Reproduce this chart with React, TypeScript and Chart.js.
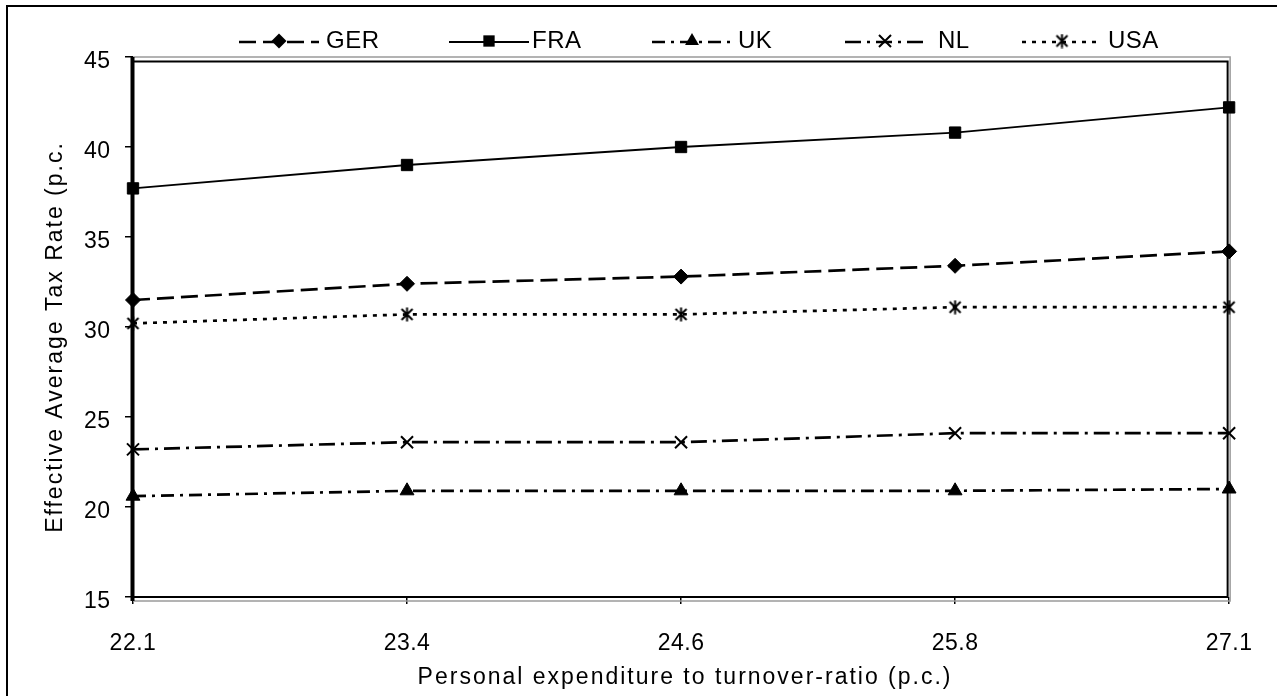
import React, { useEffect, useRef } from 'react';
import { Chart, registerables } from 'chart.js';

Chart.register(...registerables);

// ---------- data ----------
const categories = ['22.1', '23.4', '24.6', '25.8', '27.1'];
const gerValues = [31.5, 32.4, 32.8, 33.4, 34.2];
const fraValues = [37.7, 39.0, 40.0, 40.8, 42.2];
const ukValues = [20.6, 20.9, 20.9, 20.9, 21.0];
const nlValues = [23.2, 23.6, 23.6, 24.1, 24.1];
const usaValues = [30.2, 30.7, 30.7, 31.1, 31.1];
const seriesNames = ['GER', 'FRA', 'UK', 'NL', 'USA'];
const yMin = 15;
const yMax = 45;
const yStep = 5;
const xTitle = 'Personal expenditure to turnover-ratio (p.c.)';
const yTitle = 'Effective Average Tax Rate (p.c.';

const FONT = "'Liberation Sans', Arial, Helvetica, sans-serif";

function makeStar(size: number): HTMLCanvasElement {
  const c = document.createElement('canvas');
  c.width = size;
  c.height = size;
  const g = c.getContext('2d') as CanvasRenderingContext2D;
  g.strokeStyle = '#000';
  g.lineWidth = 2;
  const m = 2;
  g.beginPath();
  g.moveTo(m, m);
  g.lineTo(size - m, size - m);
  g.moveTo(size - m, m);
  g.lineTo(m, size - m);
  g.moveTo(size / 2, 0.5);
  g.lineTo(size / 2, size - 0.5);
  g.stroke();
  return c;
}

function drawMarker(ctx: CanvasRenderingContext2D, style: any, x: number, y: number, r: number) {
  ctx.save();
  ctx.fillStyle = '#000';
  ctx.strokeStyle = '#000';
  ctx.setLineDash([]);
  if (style instanceof HTMLCanvasElement) {
    ctx.drawImage(style, x - style.width / 2, y - style.height / 2);
  } else if (style === 'rectRot') {
    ctx.beginPath();
    ctx.moveTo(x - r, y);
    ctx.lineTo(x, y - r);
    ctx.lineTo(x + r, y);
    ctx.lineTo(x, y + r);
    ctx.closePath();
    ctx.fill();
  } else if (style === 'rect') {
    const s = Math.SQRT1_2 * r;
    ctx.fillRect(x - s, y - s, 2 * s, 2 * s);
  } else if (style === 'triangle') {
    ctx.beginPath();
    for (let i = 0; i < 3; i++) {
      const a = (i * 2 * Math.PI) / 3;
      const px = x + Math.sin(a) * r;
      const py = y - Math.cos(a) * r;
      if (i === 0) ctx.moveTo(px, py);
      else ctx.lineTo(px, py);
    }
    ctx.closePath();
    ctx.fill();
  } else if (style === 'crossRot') {
    const s = Math.SQRT1_2 * r;
    ctx.lineWidth = 2;
    ctx.beginPath();
    ctx.moveTo(x - s, y - s);
    ctx.lineTo(x + s, y + s);
    ctx.moveTo(x + s, y - s);
    ctx.lineTo(x - s, y + s);
    ctx.stroke();
  }
  ctx.restore();
}

export default function App() {
  const ref = useRef<HTMLCanvasElement | null>(null);

  useEffect(() => {
    const canvas = ref.current;
    if (!canvas) return;
    const star = makeStar(15);

    const styles: any[] = [
      { dash: [17, 7], width: 2.7, point: 'rectRot', radius: 7.5 },
      { dash: [], width: 1.8, point: 'rect', radius: 8 },
      { dash: [13, 6, 3, 6], width: 2.7, point: 'triangle', radius: 8 },
      { dash: [16, 6, 3, 6], width: 2.7, point: 'crossRot', radius: 8.5 },
      { dash: [4, 6], width: 2.7, point: star, radius: 7.5 },
    ];
    const values = [gerValues, fraValues, ukValues, nlValues, usaValues];

    const legendLineStart = [239, 449, 652, 845, 1022];
    const legendLineLen = 80;
    const legendTextX = [326, 532, 738, 938, 1108];
    const legendY = 42;

    const framePlugin = {
      id: 'framePlugin',
      beforeDraw(chart: any) {
        chart.ctx.letterSpacing = '0.5px';
      },
      beforeDatasetsDraw(chart: any) {
        const ctx = chart.ctx as CanvasRenderingContext2D;
        const { left, right, top, bottom } = chart.chartArea;
        ctx.save();
        // outer frame
        ctx.strokeStyle = '#000';
        ctx.lineWidth = 2;
        ctx.beginPath();
        ctx.moveTo(7, chart.height);
        ctx.lineTo(7, 6);
        ctx.lineTo(chart.width, 6);
        ctx.stroke();
        // gray shadow frame
        ctx.strokeStyle = '#9a9a9a';
        ctx.lineWidth = 1.5;
        ctx.beginPath();
        ctx.moveTo(left, top);
        ctx.lineTo(right + 1, top);
        ctx.lineTo(right + 1, bottom + 4);
        ctx.lineTo(left, bottom + 4);
        ctx.stroke();
        // black plot frame
        ctx.strokeStyle = '#000';
        ctx.lineWidth = 2;
        ctx.strokeRect(left, top + 4.5, right - 1.5 - left, bottom - (top + 4.5));
        ctx.lineWidth = 4;
        ctx.beginPath();
        ctx.moveTo(left - 0.5, top);
        ctx.lineTo(left - 0.5, bottom + 4);
        ctx.stroke();
        ctx.restore();
      },
      afterDraw(chart: any) {
        const ctx = chart.ctx as CanvasRenderingContext2D;
        const { left, right, top, bottom } = chart.chartArea;
        ctx.save();
        // legend
        for (let i = 0; i < seriesNames.length; i++) {
          const st = styles[i];
          const x0 = legendLineStart[i];
          ctx.strokeStyle = '#000';
          ctx.lineWidth = st.width;
          ctx.setLineDash(st.dash);
          ctx.beginPath();
          ctx.moveTo(x0, legendY);
          ctx.lineTo(x0 + legendLineLen, legendY);
          ctx.stroke();
          drawMarker(ctx, st.point, x0 + legendLineLen / 2, legendY - 1, st.radius);
          ctx.fillStyle = '#000';
          ctx.font = `24px ${FONT}`;
          ctx.textBaseline = 'middle';
          ctx.textAlign = 'left';
          ctx.fillText(seriesNames[i], legendTextX[i], legendY - 1);
        }
        // axis titles
        ctx.letterSpacing = '2px';
        ctx.font = `23px ${FONT}`;
        ctx.fillStyle = '#000';
        ctx.textAlign = 'center';
        ctx.textBaseline = 'middle';
        ctx.fillText(xTitle, (left + right) / 2 + 4, 678);
        ctx.save();
        ctx.translate(56, (top + bottom) / 2 + 10);
        ctx.rotate(-Math.PI / 2);
        ctx.fillText(yTitle, 0, 0);
        ctx.restore();
        ctx.restore();
      },
    };

    const chart = new Chart(canvas, {
      type: 'line',
      data: {
        labels: categories,
        datasets: seriesNames.map((name, i) => ({
          label: name,
          data: values[i],
          borderColor: '#000',
          backgroundColor: '#000',
          borderWidth: styles[i].width,
          borderDash: styles[i].dash,
          pointStyle: styles[i].point,
          pointRadius: styles[i].radius,
          pointBackgroundColor: '#000',
          pointBorderColor: '#000',
          pointBorderWidth: styles[i].point === 'crossRot' ? 2 : 1,
          tension: 0,
          fill: false,
          clip: false as any,
        })),
      },
      options: {
        responsive: false,
        animation: false,
        layout: { padding: { left: 0, top: 57, right: 47, bottom: 0 } },
        plugins: {
          legend: { display: false },
          tooltip: { enabled: false },
        },
        scales: {
          x: {
            type: 'category',
            offset: false,
            afterFit(scale: any) {
              scale.height = 99;
            },
            grid: {
              display: true,
              drawOnChartArea: false,
              drawTicks: true,
              tickLength: 7,
              color: '#000',
              lineWidth: 1.5,
            },
            border: { display: false },
            ticks: {
              color: '#000',
              font: { family: FONT, size: 23 },
              padding: 25.5,
              maxRotation: 0,
              autoSkip: false,
            },
            title: { display: false, text: xTitle },
          },
          y: {
            type: 'linear',
            min: yMin,
            max: yMax,
            afterFit(scale: any) {
              scale.width = 133;
            },
            grid: {
              display: true,
              drawOnChartArea: false,
              drawTicks: true,
              tickLength: 8,
              color: '#000',
              lineWidth: 1.5,
            },
            border: { display: false },
            ticks: {
              stepSize: yStep,
              color: '#000',
              font: { family: FONT, size: 23 },
              padding: 14.5,
              labelOffset: 5,
            },
            title: { display: false, text: yTitle },
          },
        },
      },
      plugins: [framePlugin],
    } as any);

    return () => {
      chart.destroy();
    };
  }, []);

  return (
    <div style={{ position: 'absolute', left: 0, top: 0, width: 1277, height: 696, background: '#fff' }}>
      <canvas ref={ref} width={1277} height={696} style={{ display: 'block' }} />
    </div>
  );
}
